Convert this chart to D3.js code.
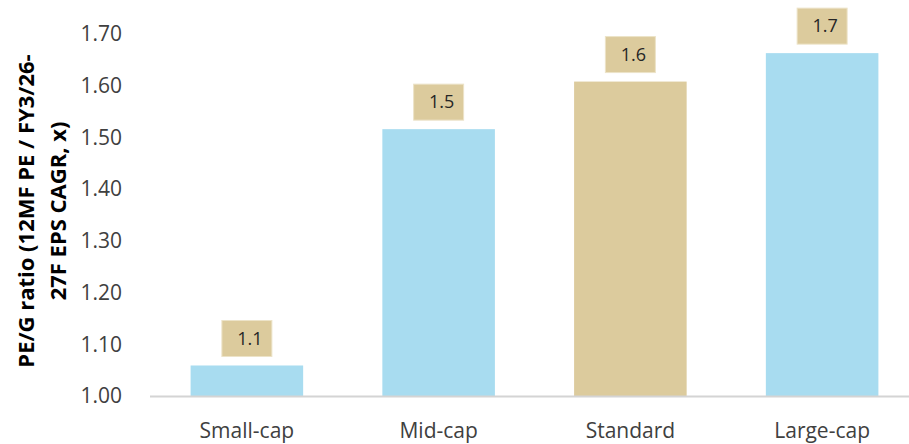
<!DOCTYPE html>
<html>
<head>
<meta charset="utf-8">
<script src="https://cdn.jsdelivr.net/npm/d3@7"></script>
<style>
  html, body { margin: 0; padding: 0; background: #fff; }
  svg { display: block; font-family: "Open Sans", "Noto Sans", sans-serif; }
</style>
</head>
<body>
<svg id="chart" width="909" height="444"></svg>
<script>
// PE/G ratio by market segment
const categories = ["Small-cap", "Mid-cap", "Standard", "Large-cap"];
const peg = [1.059, 1.516, 1.608, 1.663];
const highlight = [false, false, true, false];
const yTicks = [1.0, 1.1, 1.2, 1.3, 1.4, 1.5, 1.6, 1.7];
const yTitle = ["PE/G ratio (12MF PE / FY3/26-", "27F EPS CAGR, x)"];

const blue = "#a8dcf0";
const tan = "#dccb9d";
const textColor = "#404040";

const svg = d3.select("#chart");
const x = d3.scaleBand().domain(categories).range([151, 918]).paddingInner(0.413).paddingOuter(0.2065);
const y = d3.scaleLinear().domain([1.0, 1.7]).range([396, 34]);

// y axis tick labels
svg.append("g").selectAll("text").data(yTicks).join("text")
  .attr("x", 122).attr("y", d => y(d))
  .attr("dy", "0.35em").attr("text-anchor", "end")
  .attr("font-size", 21).attr("fill", textColor)
  .text(d => d3.format(".2f")(d));

// y axis title, two rotated lines
const title = svg.append("text")
  .attr("transform", `translate(26,${211}) rotate(-90)`)
  .attr("text-anchor", "middle").attr("font-size", 22).attr("font-weight", 700)
  .attr("fill", "#000");
title.selectAll("tspan").data(yTitle).join("tspan")
  .attr("x", 0).attr("dy", (d, i) => i === 0 ? "0.35em" : "1.45em")
  .text(d => d);

// bars
svg.append("g").selectAll("rect").data(categories).join("rect")
  .attr("x", d => x(d)).attr("width", x.bandwidth())
  .attr("y", (d, i) => y(peg[i])).attr("height", (d, i) => y(1.0) - y(peg[i]))
  .attr("fill", (d, i) => highlight[i] ? tan : blue);

// baseline
svg.append("line")
  .attr("x1", 150).attr("x2", 909).attr("y1", y(1.0) + 0.5).attr("y2", y(1.0) + 0.5)
  .attr("stroke", "#d4d4d4").attr("stroke-width", 2);

// value labels in boxes
const boxW = 50, boxH = 36, gap = 9;
const labels = svg.append("g").selectAll("g").data(categories).join("g")
  .attr("transform", (d, i) => `translate(${x(d) + x.bandwidth() / 2},${y(peg[i]) - gap - boxH / 2})`);
labels.append("rect")
  .attr("x", -boxW / 2).attr("y", -boxH / 2).attr("width", boxW).attr("height", boxH)
  .attr("fill", tan).attr("stroke", "#ece3c8").attr("stroke-width", 1);
labels.append("text")
  .attr("x", 3).attr("dy", "0.35em").attr("text-anchor", "middle")
  .attr("font-size", 18).attr("fill", "#262626")
  .text((d, i) => d3.format(".1f")(peg[i]));

// category labels
svg.append("g").selectAll("text").data(categories).join("text")
  .attr("x", d => x(d) + x.bandwidth() / 2).attr("y", 431)
  .attr("dy", "0.35em").attr("text-anchor", "middle")
  .attr("font-size", 21).attr("fill", textColor)
  .text(d => d);
</script>
</body>
</html>
